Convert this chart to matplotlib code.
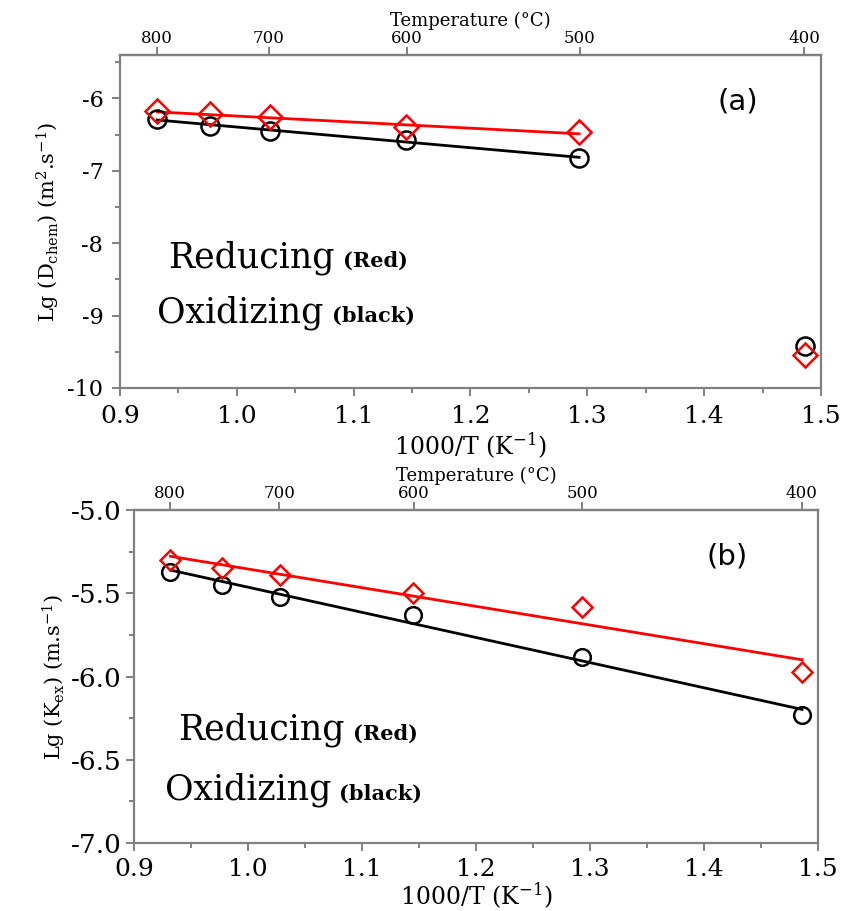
import numpy as np
import matplotlib
matplotlib.use("Agg")
import matplotlib.pyplot as plt
from matplotlib.ticker import MultipleLocator, FixedLocator, FuncFormatter

# Inverse temperature (1000/T, K^-1) of the measurement points
inv_T = [0.932, 0.977, 1.028, 1.145, 1.293, 1.486]
temp_ticks = [800, 700, 600, 500, 400]

# (a) chemical diffusion coefficient, log10(m^2/s)
lgD_reducing = [-6.18, -6.22, -6.26, -6.40, -6.47, -9.54]
lgD_oxidizing = [-6.28, -6.38, -6.45, -6.58, -6.82, -9.42]
n_fit_a = 5  # linear fit over the 800-500 C points

# (b) surface exchange coefficient, log10(m/s)
lgK_reducing = [-5.30, -5.35, -5.39, -5.50, -5.58, -5.97]
lgK_oxidizing = [-5.37, -5.45, -5.52, -5.63, -5.88, -6.23]

SERIF = "DejaVu Serif"
plt.rcParams["font.family"] = [SERIF]
plt.rcParams["mathtext.fontset"] = "dejavuserif"

SPINE = "#808080"
RED = "#ff0000"

fig = plt.figure(figsize=(8.46, 9.11), dpi=100)


def to_celsius(x):
    x = np.asarray(x, dtype=float)
    with np.errstate(divide="ignore", invalid="ignore"):
        return 1000.0 / x - 273.15


def to_inv(t):
    t = np.asarray(t, dtype=float)
    with np.errstate(divide="ignore", invalid="ignore"):
        return 1000.0 / (t + 273.15)


def hyphen_fmt(fmt):
    return FuncFormatter(lambda v, p: fmt.format(v).replace("\u2212", "-"))


def style_axes(ax, ytick_size, xtick_size, ypad, xpad, xlabelpad):
    for s in ax.spines.values():
        s.set_color(SPINE)
        s.set_linewidth(1.6)
    ax.tick_params(which="both", direction="out", color=SPINE, width=1.4,
                   top=False, right=False)
    ax.tick_params(which="major", length=6)
    ax.tick_params(which="minor", length=3.5)
    ax.tick_params(axis="y", labelsize=ytick_size, pad=ypad)
    ax.tick_params(axis="x", labelsize=xtick_size, pad=xpad)
    ax.set_xlim(0.9, 1.5)
    ax.xaxis.set_major_locator(MultipleLocator(0.1))
    ax.xaxis.set_minor_locator(MultipleLocator(0.05))
    ax.xaxis.set_major_formatter(hyphen_fmt("{:.1f}"))
    ax.set_xlabel(r"1000/T (K$^{-1}$)", fontsize=17, labelpad=xlabelpad)

    top = ax.secondary_xaxis("top", functions=(to_celsius, to_inv))
    top.xaxis.set_major_locator(FixedLocator(temp_ticks))
    top.xaxis.set_minor_locator(FixedLocator([]))
    top.tick_params(direction="out", length=6, width=1.4, color=SPINE,
                    labelsize=12, pad=0)
    top.spines["top"].set_color(SPINE)
    top.spines["top"].set_linewidth(1.6)
    top.set_xlabel("Temperature (°C)", fontsize=13, labelpad=3)


def fit_line(ax, x, y, color):
    x = np.asarray(x)
    y = np.asarray(y)
    k, b = np.polyfit(x, y, 1)
    xs = np.array([x.min(), x.max()])
    ax.plot(xs, k * xs + b, color=color, lw=2.0, zorder=2)


def condition_labels(ax, x_red, y_red, x_ox, y_ox, big, small):
    for x0, y0, word, note in ((x_red, y_red, "Reducing", "(Red)"),
                               (x_ox, y_ox, "Oxidizing", "(black)")):
        t = ax.text(x0, y0, word, fontsize=big, va="baseline",
                    ha="left", color="black")
        ax.annotate(note, xy=(1, y0), xycoords=(t, "data"), xytext=(6, 0),
                    textcoords="offset points", fontsize=small,
                    fontweight="bold", va="baseline", ha="left",
                    color="black")


# ---------------- panel (a) ----------------
ax1 = fig.add_axes([0.1418, 0.5741, 0.8286, 0.3655])
style_axes(ax1, ytick_size=16, xtick_size=18, ypad=6, xpad=6, xlabelpad=2)
ax1.set_ylim(-10, -5.4)
ax1.yaxis.set_major_locator(MultipleLocator(1))
ax1.yaxis.set_minor_locator(MultipleLocator(0.5))
ax1.yaxis.set_major_formatter(hyphen_fmt("{:.0f}"))
ax1.set_ylabel(r"Lg (D$_{\rm chem}$) (m$^{2}$.s$^{-1}$)", fontsize=15, labelpad=4)

fit_line(ax1, inv_T[:n_fit_a], lgD_oxidizing[:n_fit_a], "black")
fit_line(ax1, inv_T[:n_fit_a], lgD_reducing[:n_fit_a], RED)
ax1.plot(inv_T, lgD_oxidizing, "o", ms=13, mfc="none", mec="black", mew=1.8, zorder=3)
ax1.plot(inv_T, lgD_reducing, "D", ms=12, mfc="none", mec=RED, mew=1.8, zorder=4)

ax1.text(1.429, -6.04, "(a)", family="DejaVu Sans", fontsize=21,
         ha="center", va="center")
condition_labels(ax1, 0.941, -8.33, 0.932, -9.09, big=25, small=15)

# ---------------- panel (b) ----------------
ax2 = fig.add_axes([0.1584, 0.0746, 0.8085, 0.3655])
style_axes(ax2, ytick_size=19, xtick_size=18, ypad=3, xpad=5, xlabelpad=0)
ax2.set_ylim(-7.0, -5.0)
ax2.yaxis.set_major_locator(MultipleLocator(0.5))
ax2.yaxis.set_minor_locator(MultipleLocator(0.25))
ax2.yaxis.set_major_formatter(hyphen_fmt("{:.1f}"))
ax2.set_ylabel(r"Lg (K$_{\rm ex}$) (m.s$^{-1}$)", fontsize=15, labelpad=2)

fit_line(ax2, inv_T, lgK_oxidizing, "black")
fit_line(ax2, inv_T, lgK_reducing, RED)
ax2.plot(inv_T, lgK_oxidizing, "o", ms=12, mfc="none", mec="black", mew=1.8, zorder=3)
ax2.plot(inv_T, lgK_reducing, "D", ms=10.5, mfc="none", mec=RED, mew=1.8, zorder=4)

ax2.text(1.420, -5.28, "(b)", family="DejaVu Sans", fontsize=21,
         ha="center", va="center")
condition_labels(ax2, 0.939, -6.38, 0.927, -6.74, big=25, small=15)

fig.savefig("out.png", dpi=100)
